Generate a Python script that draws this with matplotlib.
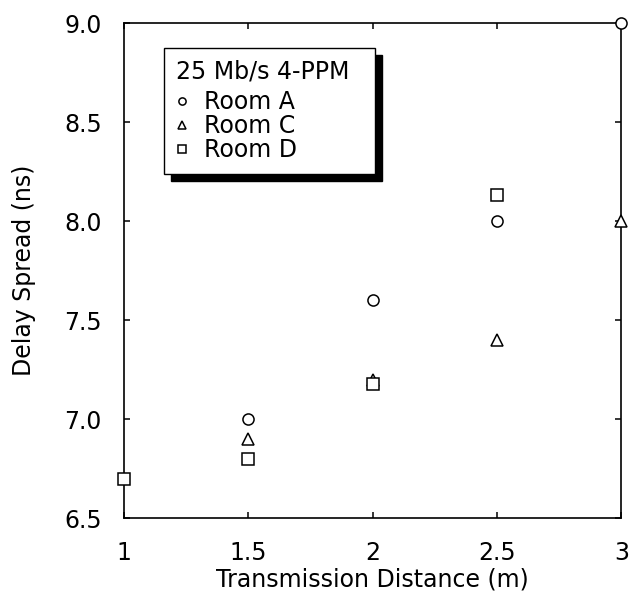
import matplotlib
matplotlib.use('Agg')
import matplotlib.pyplot as plt

# distances (m) and delay spread (ns) for each room
dist_a = [1.5, 2.0, 2.5, 3.0]
room_a = [7.0, 7.6, 8.0, 9.0]
dist_c = [1.5, 2.0, 2.5, 3.0]
room_c = [6.9, 7.2, 7.4, 8.0]
dist_d = [1.0, 1.5, 2.0, 2.5]
room_d = [6.7, 6.8, 7.18, 8.13]

xticks = [1, 1.5, 2, 2.5, 3]
xtick_labels = ['1', '1.5', '2', '2.5', '3']
yticks = [6.5, 7.0, 7.5, 8.0, 8.5, 9.0]

plt.rcParams['font.family'] = ['DejaVu Sans']
fs = 17

fig = plt.figure(figsize=(6.36, 5.93), dpi=100)
ax = fig.add_axes([0.195, 0.126, 0.782, 0.835])

style = dict(linestyle='none', markerfacecolor='white', markeredgecolor='black',
             markeredgewidth=1.1, clip_on=False, zorder=5)
ax.plot(dist_a, room_a, marker='o', markersize=8, label='Room A', **style)
ax.plot(dist_c, room_c, marker='^', markersize=8, label='Room C', **style)
ax.plot(dist_d, room_d, marker='s', markersize=8.5, label='Room D', **style)

ax.set_xlim(1, 3)
ax.set_ylim(6.5, 9.0)
ax.set_xticks(xticks)
ax.set_xticklabels(xtick_labels)
ax.set_yticks(yticks)
ax.tick_params(direction='in', top=True, right=True, length=4.5, width=1.1,
               labelsize=fs, pad=16)
for s in ax.spines.values():
    s.set_linewidth(1.2)

ax.set_xlabel('Transmission Distance (m)', fontsize=fs, labelpad=2)
ax.set_ylabel('Delay Spread (ns)', fontsize=fs)
ax.yaxis.set_label_coords(-0.177, 0.5)

leg = ax.legend(title='25 Mb/s 4-PPM', loc='upper left',
                bbox_to_anchor=(0.08, 0.0, 0.425, 0.95), mode='expand',
                fontsize=fs, title_fontsize=fs, frameon=True, fancybox=False,
                edgecolor='black', framealpha=1,
                shadow={'color': 'black', 'alpha': 1, 'ox': 5, 'oy': -5},
                handlelength=0.5, handletextpad=0.7, labelspacing=0.0,
                borderpad=0.5, borderaxespad=0, markerscale=0.65, alignment='left')
leg.get_frame().set_linewidth(1.0)
# a little gap between the title and the entries
leg._legend_box.sep = 0.2 * fs * fig.dpi / 72

fig.savefig('out.png', dpi=100)
